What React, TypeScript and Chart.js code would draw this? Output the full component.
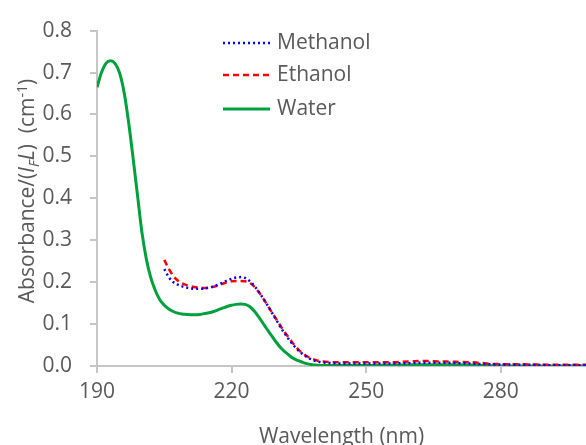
import React, { useEffect, useRef } from 'react';
import { Chart, registerables } from 'chart.js';

Chart.register(...registerables);

// ---- Data ----
const waterWavelengths = [
  190, 191, 192, 193, 194, 195, 196, 197, 198, 199,
  200, 201, 202, 203, 204, 205, 206, 207, 208, 209,
  210, 211, 212, 213, 214, 215, 216, 217, 218, 219,
  220, 221, 222, 223, 224, 225, 226, 227, 228, 229,
  230, 231, 232, 233, 234, 235, 236, 237, 238, 239,
  240, 245, 250, 255, 260, 265, 270, 275, 280, 290, 300,
];
const waterAbs = [
  0.665, 0.700, 0.722, 0.728, 0.722, 0.700, 0.655, 0.585, 0.500, 0.410,
  0.320, 0.255, 0.210, 0.180, 0.158, 0.145, 0.136, 0.130, 0.126, 0.124,
  0.123, 0.122, 0.122, 0.123, 0.125, 0.127, 0.130, 0.134, 0.138, 0.142,
  0.145, 0.147, 0.148, 0.147, 0.142, 0.132, 0.118, 0.102, 0.086, 0.071,
  0.056, 0.043, 0.033, 0.024, 0.017, 0.012, 0.008, 0.005, 0.003, 0.002,
  0.001, 0.001, 0.001, 0.002, 0.003, 0.003, 0.003, 0.002, 0.000, 0.000, 0.000,
];

const solventWavelengths = [
  205, 206, 207, 208, 209, 210, 211, 212, 213, 214,
  215, 216, 217, 218, 219, 220, 221, 222, 223, 224,
  225, 226, 227, 228, 229, 230, 231, 232, 233, 234,
  235, 236, 237, 238, 239, 240, 245, 250, 255, 260,
  263, 266, 270, 275, 278, 285, 292, 300,
];
const methanolAbs = [
  0.231, 0.212, 0.200, 0.194, 0.190, 0.187, 0.185, 0.184, 0.184, 0.185,
  0.187, 0.190, 0.194, 0.199, 0.204, 0.208, 0.211, 0.212, 0.210, 0.203,
  0.192, 0.178, 0.162, 0.145, 0.127, 0.109, 0.091, 0.075, 0.060, 0.047,
  0.036, 0.027, 0.020, 0.015, 0.011, 0.009, 0.006, 0.006, 0.006, 0.007,
  0.008, 0.008, 0.007, 0.005, 0.004, 0.003, 0.002, 0.002,
];
const ethanolAbs = [
  0.253, 0.232, 0.215, 0.204, 0.197, 0.193, 0.190, 0.188, 0.187, 0.186,
  0.187, 0.189, 0.192, 0.196, 0.200, 0.202, 0.203, 0.203, 0.202, 0.199,
  0.190, 0.177, 0.162, 0.145, 0.128, 0.111, 0.094, 0.078, 0.064, 0.050,
  0.038, 0.029, 0.022, 0.017, 0.013, 0.011, 0.009, 0.009, 0.009, 0.011,
  0.012, 0.011, 0.010, 0.008, 0.005, 0.004, 0.003, 0.003,
];

const seriesNames = ['Methanol', 'Ethanol', 'Water'];
const xTickValues = [190, 220, 250, 280];
const yTickValues = [0, 0.1, 0.2, 0.3, 0.4, 0.5, 0.6, 0.7, 0.8];
const xAxisTitle = 'Wavelength (nm)';

// ---- Styles ----
const FONT = "'Open Sans', 'Noto Sans', sans-serif";
const TEXT_COLOR = '#595959';
const AXIS_COLOR = '#C6C6C6';
const seriesColors = ['#0000FF', '#FF0000', '#00A03C'];
const seriesDash: number[][] = [[2, 3], [6, 4], []];
const seriesWidth = [2.5, 2.5, 3];

const toPoints = (xs: number[], ys: number[]) => xs.map((x, i) => ({ x, y: ys[i] }));

const yTitlePlugin = {
  id: 'yTitleRich',
  afterDraw(chart: any) {
    const ctx = chart.ctx;
    const size = 21;
    const small = 14;
    const segs = [
      { t: 'Absorbance/(', s: size, it: false, dy: 0 },
      { t: 'I', s: size, it: true, dy: 0 },
      { t: 'F', s: small, it: true, dy: 5 },
      { t: 'L', s: size, it: true, dy: 0 },
      { t: ')  (cm', s: size, it: false, dy: 0 },
      { t: '-1', s: small, it: false, dy: -7 },
      { t: ')', s: size, it: false, dy: 0 },
    ];
    ctx.save();
    const fontOf = (g: any) => `${g.it ? 'italic ' : ''}${g.s}px ${FONT}`;
    let total = 0;
    const widths = segs.map((g) => {
      ctx.font = fontOf(g);
      const w = ctx.measureText(g.t).width;
      total += w;
      return w;
    });
    const cx = 27;
    const cy = 191;
    ctx.translate(cx, cy);
    ctx.rotate(-Math.PI / 2);
    ctx.fillStyle = TEXT_COLOR;
    ctx.textBaseline = 'alphabetic';
    ctx.textAlign = 'left';
    let x = -total / 2;
    const base = 7;
    segs.forEach((g, i) => {
      ctx.font = fontOf(g);
      ctx.fillText(g.t, x, base + g.dy);
      x += widths[i];
    });
    ctx.restore();
  },
};

const legendPlugin = {
  id: 'lineLegend',
  afterDraw(chart: any) {
    const ctx = chart.ctx;
    const rows = [43, 75, 109];
    ctx.save();
    chart.data.datasets.forEach((ds: any, i: number) => {
      const y = rows[i];
      ctx.beginPath();
      ctx.setLineDash(ds.borderDash || []);
      ctx.lineWidth = ds.borderWidth;
      ctx.strokeStyle = ds.borderColor;
      ctx.lineCap = 'butt';
      ctx.moveTo(223, y);
      ctx.lineTo(270, y);
      ctx.stroke();
      ctx.setLineDash([]);
      ctx.fillStyle = TEXT_COLOR;
      ctx.font = `21px ${FONT}`;
      ctx.textBaseline = 'middle';
      ctx.textAlign = 'left';
      ctx.fillText(ds.label, 277, y);
    });
    ctx.restore();
  },
};

export default function App() {
  const ref = useRef<HTMLCanvasElement | null>(null);

  useEffect(() => {
    if (!ref.current) return;
    const seriesData = [
      toPoints(solventWavelengths, methanolAbs),
      toPoints(solventWavelengths, ethanolAbs),
      toPoints(waterWavelengths, waterAbs),
    ];
    const chart = new Chart(ref.current, {
      type: 'line',
      data: {
        datasets: seriesNames.map((name, i) => ({
          label: name,
          data: seriesData[i],
          borderColor: seriesColors[i],
          backgroundColor: seriesColors[i],
          borderWidth: seriesWidth[i],
          borderDash: seriesDash[i],
          pointRadius: 0,
          fill: false,
          cubicInterpolationMode: 'monotone' as const,
        })),
      },
      options: {
        animation: false,
        responsive: false,
        maintainAspectRatio: false,
        layout: { padding: { top: 23, left: 0, right: 0, bottom: 0 } },
        plugins: { legend: { display: false }, tooltip: { enabled: false } },
        scales: {
          x: {
            type: 'linear',
            min: 190,
            max: 299,
            afterBuildTicks: (s: any) => {
              s.ticks = xTickValues.map((v) => ({ value: v }));
            },
            afterFit: (s: any) => {
              s.height = 79;
            },
            grid: {
              display: true,
              drawOnChartArea: false,
              drawTicks: true,
              tickLength: 7,
              color: AXIS_COLOR,
              lineWidth: 2,
            },
            border: { display: true, color: AXIS_COLOR, width: 2 },
            ticks: {
              font: { family: FONT, size: 21 },
              color: TEXT_COLOR,
              padding: 6,
              maxRotation: 0,
              callback: (v: any) => String(v),
            },
            title: {
              display: true,
              text: xAxisTitle,
              font: { family: FONT, size: 21 },
              color: TEXT_COLOR,
              padding: { top: 0, bottom: -5 },
            },
          },
          y: {
            type: 'linear',
            min: 0,
            max: 0.8,
            afterBuildTicks: (s: any) => {
              s.ticks = yTickValues.map((v) => ({ value: v }));
            },
            afterFit: (s: any) => {
              s.width = 97;
            },
            grid: {
              display: true,
              drawOnChartArea: false,
              drawTicks: true,
              tickLength: 7,
              color: AXIS_COLOR,
              lineWidth: 2,
            },
            border: { display: true, color: AXIS_COLOR, width: 2 },
            ticks: {
              font: { family: FONT, size: 21 },
              color: TEXT_COLOR,
              padding: 18,
              callback: (v: any) => Number(v).toFixed(1),
            },
          },
        },
      },
      plugins: [yTitlePlugin, legendPlugin],
    });
    return () => chart.destroy();
  }, []);

  return (
    <div style={{ position: 'fixed', left: 0, top: 0, width: 586, height: 445, background: '#fff' }}>
      <canvas ref={ref} width={586} height={445} style={{ display: 'block', width: 586, height: 445 }} />
    </div>
  );
}
